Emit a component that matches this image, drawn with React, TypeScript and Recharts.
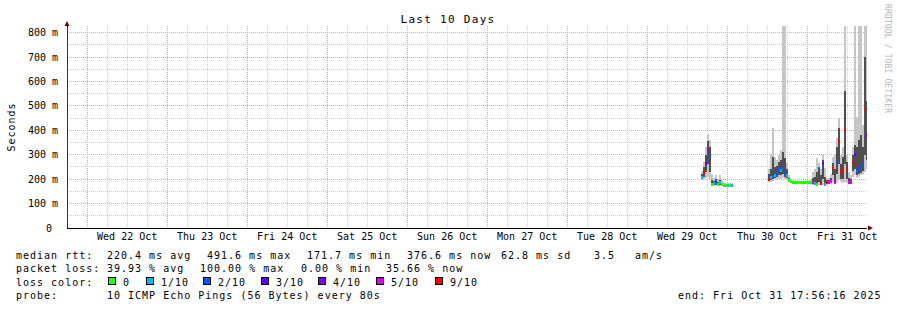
import { ComposedChart, Area, Scatter, XAxis, YAxis, CartesianGrid } from 'recharts'

// hours after Wed 22 Oct 00:00; a null median marks the end of a run of samples
const sampleHours = [
  184.0, 184.6, 185.2, 185.8, 186.4, 187.0, 187.6, 188.2, 188.8, 189.4, 190.0, 190.6, 191.2, 191.8, 192.4, 193.0,
  193.6,
  204.2, 204.8, 205.4, 206.0, 206.6, 207.2, 207.8, 208.4, 209.0, 209.6, 210.2, 210.8, 211.4, 212.0, 212.6, 213.2,
  213.8, 214.4, 215.0, 215.6, 216.2, 216.8, 217.4, 218.0, 218.6, 219.2, 219.8, 220.4, 221.0, 221.6, 222.2, 222.8,
  223.4, 224.0, 224.6, 225.2, 225.8, 226.4, 227.0, 227.6, 228.2, 228.8, 229.4, 230.0, 230.6, 231.2, 231.8, 232.4,
  233.0, 233.6,
  233.9,
]

const medianMs = [
  206, 226, 265, 320, 292, 178, 182, 190, 180, 186, 178, 176, 175, 176, 175, 176,
  null,
  198, 205, 210, 215, 225, 240, 235, 245, 228, 215, 196, 190, 188, 188, 187, 187,
  188, 187, 187, 188, 187, 186, 185, 182, 178, 245, 182, 263, 180, 185, 186, 190,
  247, 188, 267, 353, 226, 238, 402, 239, 186, 188, 267, 300, 231, 238, 245, 262,
  491, 377,
  null,
]

// lost pings out of 10
const lossTenths = [
  1, 9, 3, 4, 2, 0, 1, 2, 0, 1, 0, 0, 0, 1, 0, 1,
  null,
  9, 1, 2, 1, 2, 2, 1, 2, 2, 1, 0, 0, 0, 0, 0, 0,
  0, 0, 0, 0, 0, 0, 5, 1, 0, 2, 9, 3, 1, 9, 5, 5,
  9, 5, 2, 9, 9, 9, 9, 9, 5, 5, 9, 3, 2, 2, 2, 2,
  9, 4,
  null,
]

const smokeLow = [
  198, 200, 205, 210, 195, 170, 172, 174, 172, 174, 172, 170, 170, 170, 170, 171,
  null,
  190, 190, 192, 195, 198, 200, 200, 205, 200, 195, 188, 186, 185, 184, 184, 184,
  185, 184, 184, 185, 184, 182, 178, 175, 172, 176, 175, 178, 175, 176, 180, 182,
  190, 180, 185, 195, 190, 185, 190, 185, 182, 182, 210, 215, 205, 210, 215, 220,
  230, 240,
  null,
]

const smokeHigh = [
  235, 270, 330, 385, 360, 220, 205, 215, 200, 215, 195, 188, 186, 185, 184, 184,
  null,
  240, 300, 410, 290, 280, 300, 320, 900, 900, 265, 215, 200, 195, 194, 193, 194,
  194, 193, 193, 195, 194, 200, 230, 240, 285, 265, 240, 300, 245, 205, 205, 220,
  290, 300, 370, 450, 300, 330, 900, 300, 230, 215, 330, 900, 455, 900, 900, 420,
  900, 900,
  null,
]

const coreLow = [
  202, 210, 230, 260, 230, 174, 176, 178, 175, 178, 174, 172, 172, 172, 172, 173,
  null,
  195, 198, 200, 205, 210, 215, 215, 220, 210, 205, 190, 188, 186, 186, 185, 185,
  186, 185, 185, 186, 185, 184, 182, 179, 176, 190, 179, 200, 178, 180, 183, 185,
  215, 185, 220, 260, 200, 200, 260, 200, 184, 184, 235, 240, 215, 220, 225, 235,
  300, 280,
  null,
]

const coreHigh = [
  220, 250, 300, 355, 330, 195, 192, 200, 188, 198, 185, 182, 180, 180, 180, 180,
  null,
  220, 240, 290, 250, 255, 270, 280, 310, 285, 240, 205, 195, 191, 191, 190, 190,
  191, 190, 190, 191, 190, 192, 205, 210, 230, 250, 215, 280, 210, 195, 195, 205,
  265, 240, 330, 410, 260, 290, 560, 270, 205, 200, 300, 340, 330, 360, 380, 330,
  700, 520,
  null,
]

const dayLabels = ['Wed 22 Oct', 'Thu 23 Oct', 'Fri 24 Oct', 'Sat 25 Oct', 'Sun 26 Oct', 'Mon 27 Oct', 'Tue 28 Oct', 'Wed 29 Oct', 'Thu 30 Oct', 'Fri 31 Oct']
const noonTicks = [12, 36, 60, 84, 108, 132, 156, 180, 204, 228]
const midnights = [0, 24, 48, 72, 96, 120, 144, 168, 192, 216]
const quarterDays = [6, 12, 18, 30, 36, 42, 54, 60, 66, 78, 84, 90, 102, 108, 114, 126, 132, 138, 150, 156, 162, 174, 180, 186, 198, 204, 210, 222, 228]
const msTicks = [0, 100, 200, 300, 400, 500, 600, 700, 800]
const msMinor = [50, 150, 250, 350, 450, 550, 650, 750]
const timeDomain = [-6.06, 233.94]

const lossLegend = [
  { loss: 0, label: '0', color: '#26ff00' },
  { loss: 1, label: '1/10', color: '#00b8ff' },
  { loss: 2, label: '2/10', color: '#0059ff' },
  { loss: 3, label: '3/10', color: '#5e00ff' },
  { loss: 4, label: '4/10', color: '#7e00ff' },
  { loss: 5, label: '5/10', color: '#dd00ff' },
  { loss: 9, label: '9/10', color: '#ff0000' },
]

type Row = {
  t: number
  med: number | null
  loss: number | null
  sLo: number | null
  sHi: number | null
  cLo: number | null
  cHi: number | null
}

const rows: Row[] = []
sampleHours.forEach((t, i) => {
  if (medianMs[i] == null) {
    // close the last step, then break the series
    const prev = rows[rows.length - 1]
    rows.push({ ...prev, t, med: null, loss: null })
    rows.push({ t, med: null, loss: null, sLo: null, sHi: null, cLo: null, cHi: null })
    return
  }
  rows.push({
    t,
    med: medianMs[i],
    loss: lossTenths[i],
    sLo: smokeLow[i],
    sHi: smokeHigh[i],
    cLo: coreLow[i],
    cHi: coreHigh[i],
  })
})
const medianRows = rows.filter((r) => r.med != null)

const colorOf = (loss: number) => lossLegend.find((l) => l.loss === loss)?.color ?? '#ff0000'

const mono = '"DejaVu Sans Mono", monospace'

function MedianMark(props: any) {
  const { cx, cy, payload } = props
  if (cx == null || cy == null) return null
  return <rect x={cx} y={cy - 1.5} width={2} height={3} fill={colorOf(payload.loss)} shapeRendering="crispEdges" />
}

const legendRows: { y: number; items: { x: number; text: string }[] }[] = [
  {
    y: 258.7,
    items: [
      { x: 16, text: 'median rtt:' },
      { x: 107, text: '220.4 ms avg' },
      { x: 207, text: '491.6 ms max' },
      { x: 307, text: '171.7 ms min' },
      { x: 407, text: '376.6 ms now' },
      { x: 501, text: '62.8 ms sd' },
      { x: 594, text: '3.5' },
      { x: 635, text: 'am/s' },
    ],
  },
  {
    y: 272.3,
    items: [
      { x: 16, text: 'packet loss:' },
      { x: 107, text: '39.93 % avg' },
      { x: 200, text: '100.00 % max' },
      { x: 301, text: '0.00 % min' },
      { x: 386, text: '35.66 % now' },
    ],
  },
  { y: 285.8, items: [{ x: 16, text: 'loss color:' }] },
  {
    y: 299.3,
    items: [
      { x: 16, text: 'probe:' },
      { x: 107, text: '10 ICMP Echo Pings (56 Bytes) every 80s' },
      { x: 678, text: 'end: Fri Oct 31 17:56:16 2025' },
    ],
  },
]
const swatchX = [108, 146, 203, 261, 318, 376, 435]

export default function App() {
  return (
    <div style={{ position: 'absolute', left: 0, top: 0, width: 897, height: 310, background: '#fff' }}>
      <ComposedChart
        width={897}
        height={310}
        data={rows}
        margin={{ top: 26, right: 30, bottom: 62, left: 0 }}
      >
        <CartesianGrid
          horizontalValues={msMinor}
          verticalValues={quarterDays}
          stroke="#cfcfcf"
          strokeDasharray="1 1"
          shapeRendering="crispEdges"
        />
        <CartesianGrid
          horizontalValues={msTicks.slice(1)}
          verticalValues={midnights}
          stroke="#f2a2a2"
          strokeDasharray="1 1"
          shapeRendering="crispEdges"
        />
        <XAxis
          dataKey="t"
          type="number"
          domain={timeDomain}
          ticks={noonTicks}
          tickFormatter={(v: number) => dayLabels[noonTicks.indexOf(v)] ?? ''}
          interval={0}
          height={20}
          tickLine={false}
          tickSize={0}
          tickMargin={5}
          axisLine={{ stroke: '#000', shapeRendering: 'crispEdges' }}
          tick={{ fill: '#000', fontSize: 10, fontFamily: mono }}
          allowDataOverflow
        />
        <YAxis
          type="number"
          domain={[0, 827]}
          ticks={msTicks}
          tickFormatter={(v: number) => (v === 0 ? '0\u00a0' : `${v} m`)}
          interval={0}
          width={67}
          tickLine={false}
          tickSize={0}
          tickMargin={9}
          axisLine={{ stroke: '#333', shapeRendering: 'crispEdges' }}
          tick={{ fill: '#000', fontSize: 10, fontFamily: mono }}
          allowDataOverflow
        />
        <Area
          type="stepAfter"
          dataKey={(d: Row) => (d.sLo == null ? null : [d.sLo, d.sHi])}
          stroke="none"
          fill="#c6c6c6"
          fillOpacity={1}
          dot={false}
          activeDot={false}
          shapeRendering="crispEdges"
          isAnimationActive={false}
        />
        <Area
          type="stepAfter"
          dataKey={(d: Row) => (d.cLo == null ? null : [d.cLo, d.cHi])}
          stroke="none"
          fill="#4f4f4f"
          fillOpacity={1}
          dot={false}
          activeDot={false}
          shapeRendering="crispEdges"
          isAnimationActive={false}
        />
        <Scatter data={medianRows} dataKey="med" shape={MedianMark} isAnimationActive={false} />
      </ComposedChart>

      <svg
        width={897}
        height={310}
        style={{ position: 'absolute', left: 0, top: 0, pointerEvents: 'none' }}
        fontFamily={mono}
      >
        <text x={448} y={22.5} textAnchor="middle" fontSize={11} letterSpacing={1.3} fill="#000">
          Last 10 Days
        </text>
        <text
          transform="translate(15,127) rotate(-90)"
          textAnchor="middle"
          fontSize={10}
          letterSpacing={1}
          fill="#000"
        >
          Seconds
        </text>
        <text transform="translate(884.5,4) rotate(90)" fontSize={8} letterSpacing={0.15} fill="#b8b8b8">
          RRDTOOL / TOBI OETIKER
        </text>
        <polygon points="67,21 64.5,26 69.5,26" fill="#7a0000" />
        <polygon points="873,228 868,225.5 868,230.5" fill="#7a0000" />
        {legendRows.map((row) =>
          row.items.map((it) => (
            <text key={`${row.y}-${it.x}`} x={it.x} y={row.y} fontSize={10} letterSpacing={1} fill="#000">
              {it.text}
            </text>
          ))
        )}
        {lossLegend.map((l, i) => (
          <g key={l.label}>
            <rect x={swatchX[i] + 0.5} y={277.5} width={7} height={7} fill={l.color} stroke="#000" strokeWidth={1} />
            <text x={swatchX[i] + 15} y={285.8} fontSize={10} letterSpacing={1} fill="#000">
              {l.label}
            </text>
          </g>
        ))}
      </svg>
    </div>
  )
}
